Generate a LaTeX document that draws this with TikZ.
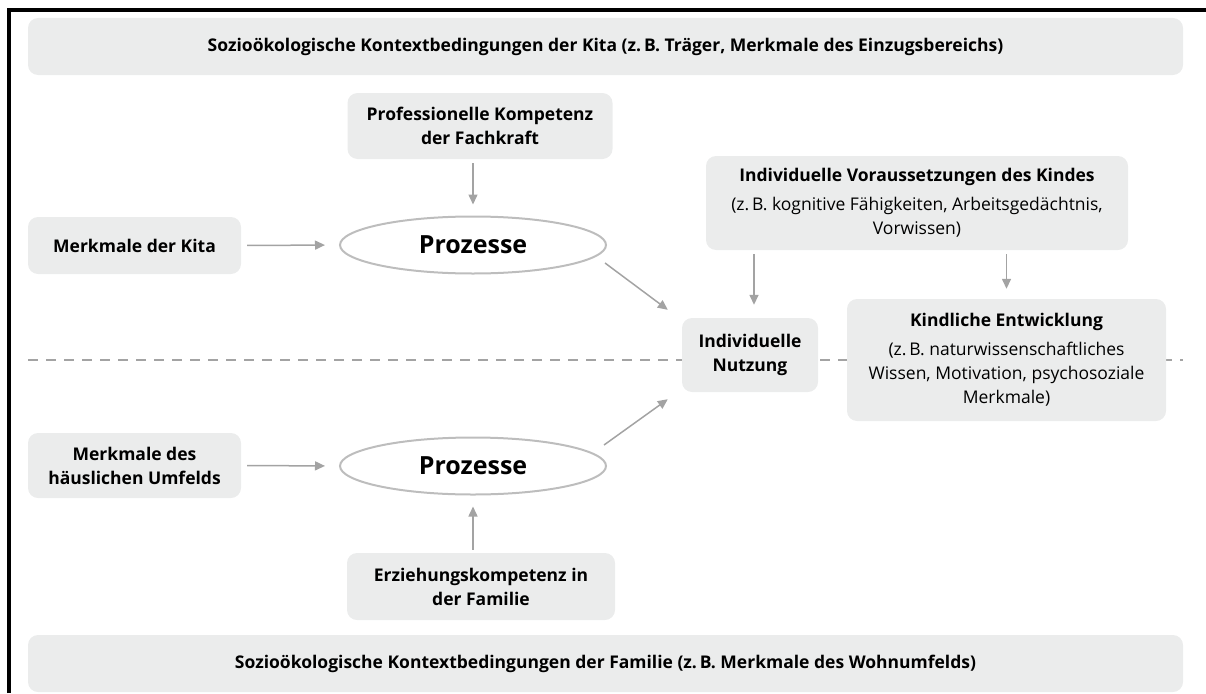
\documentclass[tikz,border=0pt]{standalone}
\usepackage{fontspec}
\setmainfont{Open Sans}
\usetikzlibrary{shapes.geometric,arrows.meta,calc}

\definecolor{boxgray}{HTML}{EBECEC}
\definecolor{arrgray}{HTML}{A3A3A3}
\definecolor{ellgray}{HTML}{BDBDBD}

\tikzset{
  box/.style={fill=boxgray, rounded corners=10pt, align=center, inner sep=0pt,
    font=\fontsize{17.5}{24}\selectfont\bfseries},
  proz/.style={ellipse, draw=ellgray, line width=2pt, minimum width=266pt,
    minimum height=57pt, font=\fontsize{25}{28}\selectfont\bfseries},
  pfeil/.style={draw=arrgray, line width=1.5pt, -{Triangle[length=10pt,width=9pt]}},
}

\begin{document}
\begin{tikzpicture}[x=1pt,y=-1pt]
\useasboundingbox (0,0) rectangle (1206,693);
% Trennlinie Kita / Familie
\draw[arrgray, line width=1.5pt, dash pattern=on 10pt off 8pt] (28,360) -- (1183,360);
% Kita
\node[box, minimum width=1155pt, minimum height=57pt] (kontextkita) at (605.5,46.5)
  {Sozioökologische Kontextbedingungen der Kita (z.\,B. Träger, Merkmale des Einzugsbereichs)};
\node[box, minimum width=265pt, minimum height=66pt] (fachkraft) at (480,126)
  {Professionelle Kompetenz\\der Fachkraft};
\node[box, minimum width=213pt, minimum height=57pt] (kita) at (134.5,245.5) {Merkmale der Kita};
\node[proz] (prozkita) at (473,245) {Prozesse};
% Kind
\node[box, minimum width=422pt, minimum height=94pt] (voraus) at (917,203)
  {Individuelle Voraussetzungen des Kindes\\[5pt]\mdseries (z.\,B. kognitive Fähigkeiten, Arbeitsgedächtnis,\\\mdseries Vorwissen)};
\node[box, minimum width=136pt, minimum height=74pt] (nutzung) at (750,355) {Individuelle\\Nutzung};
\node[box, minimum width=319pt, minimum height=122pt] (entw) at (1006.5,360)
  {Kindliche Entwicklung\\[5pt]\mdseries (z.\,B. naturwissenschaftliches\\\mdseries Wissen, Motivation, psychosoziale\\\mdseries Merkmale)};
% Familie
\node[box, minimum width=213pt, minimum height=65pt] (umfeld) at (134.5,465.5) {Merkmale des\\häuslichen Umfelds};
\node[proz] (prozfam) at (473,466) {Prozesse};
\node[box, minimum width=268pt, minimum height=67pt] (erziehung) at (481,586.5)
  {Erziehungskompetenz in\\der Familie};
\node[box, minimum width=1155pt, minimum height=57pt] (kontextfam) at (605.5,663.5)
  {Sozioökologische Kontextbedingungen der Familie (z.\,B. Merkmale des Wohnumfelds)};
% Pfeile
\draw[pfeil, shorten <=6pt, shorten >=14pt] (kita.east) -- (prozkita.west);
\draw[pfeil, shorten <=4pt, shorten >=11pt] (prozkita.north |- fachkraft.south) -- (prozkita.north);
\draw[pfeil] ($(prozkita.east)+(-2,18)$) -- ($(nutzung.north west)+(-14,-8)$);
\draw[pfeil] ($(prozfam.east)+(-3,-21)$) -- ($(nutzung.south west)+(-14,7)$);
\draw[pfeil, shorten <=4pt, shorten >=13pt] ([xshift=4pt]nutzung.north |- voraus.south) -- ([xshift=4pt]nutzung.north);
\draw[pfeil, shorten <=4pt, shorten >=10pt] (entw.north |- voraus.south) -- (entw.north);
\draw[pfeil, shorten <=6pt, shorten >=14pt] (umfeld.east) -- (prozfam.west);
\draw[pfeil, shorten <=3pt, shorten >=11pt] (prozfam.south |- erziehung.north) -- (prozfam.south);
% Rahmen
\draw[line width=4pt] (9,693) -- (9,10) -- (1206,10);
\end{tikzpicture}
\end{document}
